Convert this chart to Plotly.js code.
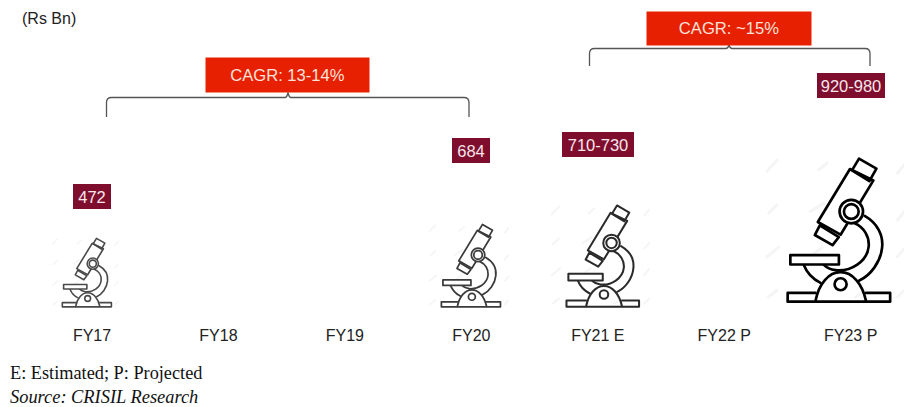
<!DOCTYPE html>
<html><head><meta charset="utf-8">
<script src="https://cdn.plot.ly/plotly-3.0.1.min.js"></script>
<style>html,body{margin:0;padding:0;background:#fff}#c{width:904px;height:407px}</style>
</head><body><div id="c"></div>
<script>
const categories = ["FY17","FY18","FY19","FY20","FY21 E","FY22 P","FY23 P"];
const values = [472,null,null,684,720,null,950];
const valueLabels = ["472",null,null,"684","710-730",null,"920-980"];
const cagrLabels = ["CAGR: 13-14%","CAGR: ~15%"];
const unitLabel = "(Rs Bn)";
const noteLabels = ["E: Estimated; P: Projected","Source: CRISIL Research"];

// layout helpers
const W=904,H=407,axisPx=320,STEP=126.45;
const xOf=px=>(px-92)/STEP;
const X0=xOf(0),X1=xOf(W);
const PX=x=>x/W, PY=y=>(axisPx-y)/axisPx;
const Y0=-59,Y1=1318;
const yOf=px=>Y0+(axisPx-px)/axisPx*(Y1-Y0);

function icon(sw,col,blur){
 const s=`fill="none" stroke="${col}" stroke-width="${sw}" stroke-linejoin="round" stroke-linecap="round"`;
 const marks=[[20,95,50,62],[175,90,200,70],[25,220,50,195],[150,215,190,190],[20,350,55,322],[160,340,185,322],[25,470,50,450],[285,470,315,450],[410,240,430,215],[410,100,430,75],[410,350,430,325],[410,470,430,450]];
 const w=marks.map(m=>`<path d="M${m[0]} ${m[1]}L${m[2]} ${m[3]}" stroke="#f5f5f5" stroke-width="9" stroke-linecap="round"/>`).join('');
 const svg=`<svg xmlns="http://www.w3.org/2000/svg" viewBox="0 30 440 470" width="880" height="940" preserveAspectRatio="none"><defs><filter id="b" x="-5%" y="-5%" width="110%" height="110%"><feGaussianBlur stdDeviation="${blur}"/></filter></defs><g filter="url(#b)">${w}
 <g ${s}>
 <path d="M295 57L347 87L326 124L274 92Z"/>
 <path d="M268 88L338 122L240 284L172 246Z"/>
 <path d="M178 256L235 291L216 315L163 285Z"/>
 <path d="M312 228C350 250 368 285 364 322C360 365 330 405 296 421"/>
 <path d="M282 250C310 262 326 290 324 318C320 365 270 395 225 390C210 388 198 382 190 374"/>
 <path d="M130 374C140 400 160 418 180 428"/>
 <path d="M165 482C175 430 205 396 240 396C275 396 305 430 316 482"/>
 <circle cx="240" cy="432" r="18"/>
 <path d="M165 458H82V484H388V458H316"/>
 <rect x="90" y="345" width="145" height="28" fill="#fff"/>
 <circle cx="272" cy="215" r="35" fill="#fff"/>
 <circle cx="272" cy="215" r="22" fill="#fff"/>
 </g></g></svg>`;
 return 'data:image/svg+xml;base64,'+btoa(svg);
}
// icon placement table: left, top, bottom px of the drawn microscope, stroke, colour, blur
const iconStyle=[[62,238,307,10,'#4a4a4a',2.2],[441,224,307,9,'#3a3a3a',1.8],[566,205,307,8.5,'#2a2a2a',1.6],[787,158,302,8,'#000',1.2]];
const images=iconStyle.map(t=>{const s=(t[2]-t[1])/430;
 return {source:icon(t[3],t[4],t[5]),xref:'x',yref:'y',x:xOf(t[0]-80*s),y:yOf(t[2]+15*s),sizex:440*s/STEP,sizey:470*s/axisPx*(Y1-Y0),xanchor:'left',yanchor:'bottom',sizing:'stretch',layer:'above'};});

const labelBox={0:[38,0],3:[38,-3.5],4:[72,-5.5],6:[68,0]};
const labelAnn=[];
values.forEach((v,i)=>{ if(v==null)return; const b=labelBox[i];
 labelAnn.push({x:i,y:v,xref:'x',yref:'y',text:valueLabels[i],showarrow:false,width:b[0],height:25,bgcolor:'#7f0d2e',borderpad:0,borderwidth:0,
 xanchor:'center',yanchor:'middle',yshift:b[1],font:{family:'Liberation Sans',size:16.5,color:'#f6e6ea'}});});
const cagrAnn=[[287.5,75,163,34,0],[729,28.5,164,33,1]].map(c=>({x:PX(c[0]),y:PY(c[1]),xref:'paper',yref:'paper',text:cagrLabels[c[4]],showarrow:false,width:c[2],height:c[3],bgcolor:'#e62000',borderpad:0,xanchor:'center',yanchor:'middle',font:{family:'Liberation Sans',size:16.6,color:'#fbe3dc'}}));
const textAnn=[
 {x:PX(21),y:PY(18),text:unitLabel,xanchor:'left',font:{family:'Liberation Sans',size:16,color:'#222'}},
 {x:PX(9),y:PY(372.5),text:noteLabels[0],xanchor:'left',font:{family:'Liberation Serif',size:18.3,color:'#111'}},
 {x:PX(9),y:PY(396.5),text:'<i>'+noteLabels[1]+'</i>',xanchor:'left',font:{family:'Liberation Serif',size:18.4,color:'#111'}}
].map(a=>Object.assign({xref:'paper',yref:'paper',showarrow:false,yanchor:'middle',borderpad:0},a));

function bracket(l,r,top,bot,tipX,tipY){
 const p=(x,y)=>`${PX(x)} ${PY(y)}`;
 return {type:'path',xref:'paper',yref:'paper',line:{color:'#555',width:1.3},
 path:`M${p(l,bot)} L${p(l,top+5)} Q${p(l,top)} ${p(l+5,top)} L${p(tipX-3,top)} Q${p(tipX-1,top)} ${p(tipX,tipY)} Q${p(tipX+1,top)} ${p(tipX+3,top)} L${p(r-5,top)} Q${p(r,top)} ${p(r,top+5)} L${p(r,bot)}`};
}
const shapes=[bracket(106.5,469,97.5,117,288,92.5),bracket(589.5,870,48.5,66,729,45)];

Plotly.newPlot('c',[{type:'scatter',mode:'markers',x:categories.map((c,i)=>i),y:values,marker:{opacity:0,size:1},hoverinfo:'skip',showlegend:false}],{
 width:W,height:H,margin:{l:0,r:0,t:0,b:H-axisPx,pad:0},paper_bgcolor:'#fff',plot_bgcolor:'#fff',showlegend:false,
 xaxis:{type:'linear',range:[X0,X1],tickmode:'array',tickvals:categories.map((c,i)=>i),ticktext:categories,showgrid:false,zeroline:false,showline:false,ticks:'outside',ticklen:1,tickcolor:'rgba(0,0,0,0)',tickfont:{family:'Liberation Sans',size:16,color:'#222'},fixedrange:true},
 yaxis:{range:[Y0,Y1],visible:false,fixedrange:true},
 images:images,shapes:shapes,annotations:labelAnn.concat(cagrAnn,textAnn)
},{staticPlot:true,displayModeBar:false});
</script></body></html>
